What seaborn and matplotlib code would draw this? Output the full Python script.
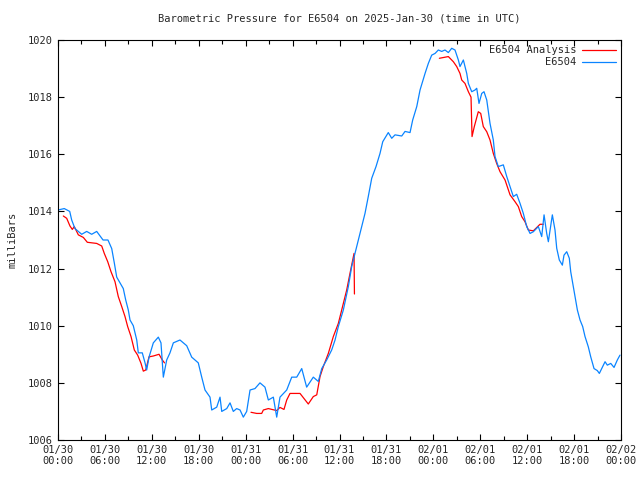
import numpy as np
import pandas as pd
import matplotlib
matplotlib.use("Agg")
import matplotlib.pyplot as plt
import seaborn as sns

# hours since 2025-01-30 00:00 UTC, pressure in mb
obs_hours = [0.0, 0.8, 1.5, 1.75, 2.17, 3.03, 3.67, 4.31, 4.95, 5.76, 6.39, 6.87, 7.2, 7.51, 7.93,
             8.35, 8.66, 8.99, 9.21, 9.63, 10.07, 10.27, 10.78, 11.13, 11.34, 11.64, 12.19, 12.83,
             13.17, 13.47, 13.9, 14.32, 14.75, 15.6, 16.46, 17.1, 17.94, 18.38, 18.8, 19.44, 19.66,
             20.3, 20.72, 20.94, 21.58, 22.0, 22.42, 22.85, 23.28, 23.7, 24.13, 24.56, 25.19, 25.83,
             26.47, 26.9, 27.54, 27.97, 28.39, 29.25, 29.89, 30.53, 31.17, 31.8, 32.65, 33.29, 33.73,
             34.36, 35.0, 35.43, 35.85, 36.49, 37.13, 37.56, 37.98, 38.41, 38.84, 39.26, 39.68, 40.12,
             40.67, 41.18, 41.53, 42.24, 42.68, 43.1, 43.96, 44.38, 45.02, 45.36, 45.88, 46.3, 46.94,
             47.36, 47.79, 48.22, 48.64, 49.07, 49.49, 49.92, 50.35, 50.77, 51.2, 51.41, 51.84, 52.27,
             52.48, 52.91, 53.33, 53.55, 53.84, 54.19, 54.48, 54.83, 55.25, 55.67, 55.89, 56.31, 56.95,
             57.39, 57.81, 58.23, 58.66, 59.09, 59.51, 59.94, 60.37, 60.79, 61.43, 61.86, 62.16, 62.5,
             62.71, 63.22, 63.56, 63.78, 64.11, 64.5, 64.71, 65.06, 65.39, 65.57, 65.9, 66.12, 66.42,
             66.76, 67.1, 67.4, 67.82, 68.13, 68.55, 68.97, 69.23, 69.66, 69.96, 70.25, 70.69, 71.11,
             71.53, 71.87]
obs_mb = [1014.05, 1014.1, 1014.0, 1013.7, 1013.4, 1013.2, 1013.3, 1013.2, 1013.3, 1013.0, 1013.0,
          1012.7, 1012.2, 1011.7, 1011.5, 1011.3, 1010.9, 1010.55, 1010.2, 1010.0, 1009.5, 1009.05,
          1009.05, 1008.7, 1008.45, 1008.9, 1009.4, 1009.6, 1009.4, 1008.2, 1008.8, 1009.05, 1009.4,
          1009.5, 1009.3, 1008.9, 1008.7, 1008.2, 1007.75, 1007.5, 1007.05, 1007.15, 1007.5, 1007.0,
          1007.1, 1007.3, 1007.0, 1007.1, 1007.05, 1006.8, 1007.0, 1007.75, 1007.8, 1008.0, 1007.85,
          1007.4, 1007.5, 1006.8, 1007.5, 1007.75, 1008.2, 1008.2, 1008.5, 1007.85, 1008.2, 1008.05,
          1008.5, 1008.8, 1009.15, 1009.5, 1009.97, 1010.55, 1011.37, 1012.07, 1012.53, 1013.0,
          1013.47, 1013.93, 1014.52, 1015.16, 1015.57, 1016.03, 1016.44, 1016.76, 1016.56, 1016.68,
          1016.64, 1016.8, 1016.76, 1017.2, 1017.67, 1018.25, 1018.83, 1019.18, 1019.47, 1019.53,
          1019.65, 1019.6, 1019.65, 1019.56, 1019.71, 1019.65, 1019.3, 1019.07, 1019.3, 1018.83,
          1018.48, 1018.19, 1018.25, 1018.31, 1017.78, 1018.13, 1018.19, 1017.9, 1017.08, 1016.5,
          1015.92, 1015.57, 1015.63, 1015.22, 1014.87, 1014.52, 1014.6, 1014.28, 1013.93, 1013.47,
          1013.23, 1013.29, 1013.47, 1013.12, 1013.88, 1013.23, 1012.94, 1013.88, 1013.35, 1012.71,
          1012.3, 1012.12, 1012.47, 1012.59, 1012.36, 1011.89, 1011.37, 1011.02, 1010.55, 1010.2,
          1009.97, 1009.62, 1009.26, 1008.91, 1008.5, 1008.43, 1008.33, 1008.57, 1008.74, 1008.62,
          1008.68, 1008.54, 1008.8, 1008.97]

# analysis series, three separate pieces
ana_hours_1 = [0.68, 1.11, 1.53, 1.83, 2.08, 2.6, 3.24, 3.75, 4.95, 5.59, 5.92, 6.36, 6.78, 7.29,
               7.71, 8.15, 8.57, 8.91, 9.34, 9.76, 10.19, 10.62, 10.91, 11.22, 11.64, 12.19, 12.92,
               13.34, 13.62]
ana_mb_1 = [1013.84, 1013.76, 1013.49, 1013.37, 1013.47, 1013.18, 1013.09, 1012.92, 1012.88,
            1012.79, 1012.53, 1012.24, 1011.89, 1011.54, 1011.02, 1010.67, 1010.32, 1009.97,
            1009.62, 1009.15, 1008.97, 1008.68, 1008.41, 1008.45, 1008.91, 1008.94, 1009.0,
            1008.8, 1008.7]
ana_hours_2 = [24.68, 25.41, 26.05, 26.26, 26.9, 27.97, 28.39, 28.9, 29.25, 29.67, 30.95, 32.01,
               32.65, 33.09, 33.51, 33.93, 34.57, 35.21, 35.85, 36.49, 36.92, 37.34, 37.69, 37.86,
               37.91]
ana_mb_2 = [1006.97, 1006.93, 1006.93, 1007.05, 1007.1, 1007.03, 1007.14, 1007.07, 1007.4,
            1007.63, 1007.63, 1007.26, 1007.52, 1007.58, 1008.22, 1008.57, 1009.03, 1009.62,
            1010.08, 1010.78, 1011.25, 1011.83, 1012.3, 1012.53, 1011.11]
ana_hours_3 = [48.77, 49.92, 50.56, 50.99, 51.41, 51.63, 52.05, 52.48, 52.82, 52.95, 53.24, 53.75,
               54.06, 54.39, 54.83, 55.25, 55.67, 56.1, 56.53, 57.17, 57.81, 58.45, 58.87, 59.3,
               59.72, 60.15, 60.79, 61.64, 62.07]
ana_mb_3 = [1019.36, 1019.42, 1019.24, 1019.07, 1018.83, 1018.6, 1018.48, 1018.19, 1018.0,
            1016.62, 1016.97, 1017.49, 1017.43, 1016.97, 1016.79, 1016.5, 1016.03, 1015.68,
            1015.39, 1015.1, 1014.58, 1014.34, 1014.17, 1013.82, 1013.64, 1013.35, 1013.32,
            1013.55, 1013.55]

tick_hours = list(range(0, 73, 6))
tick_labels = ["01/30\n00:00", "01/30\n06:00", "01/30\n12:00", "01/30\n18:00",
               "01/31\n00:00", "01/31\n06:00", "01/31\n12:00", "01/31\n18:00",
               "02/01\n00:00", "02/01\n06:00", "02/01\n12:00", "02/01\n18:00",
               "02/02\n00:00"]

df_obs = pd.DataFrame({"hours": obs_hours, "mb": obs_mb})
df_ana = pd.concat([
    pd.DataFrame({"hours": ana_hours_1, "mb": ana_mb_1, "seg": 1}),
    pd.DataFrame({"hours": ana_hours_2, "mb": ana_mb_2, "seg": 2}),
    pd.DataFrame({"hours": ana_hours_3, "mb": ana_mb_3, "seg": 3}),
], ignore_index=True)

sns.set_style("ticks")
plt.rcParams['font.family'] = ['DejaVu Sans Mono']

fig = plt.figure(figsize=(6.4, 4.8), dpi=100)
ax = fig.add_axes([58 / 640, 1 - 440 / 480, 563 / 640, 400 / 480])

sns.lineplot(data=df_ana, x="hours", y="mb", units="seg", estimator=None, color="#ff0000",
             linewidth=0.9, ax=ax, label="E6504 Analysis")
sns.lineplot(data=df_obs, x="hours", y="mb", color="#0a84ff", linewidth=0.9, ax=ax, label="E6504")

ax.set_xlim(0, 72)
ax.set_ylim(1006, 1020)
ax.set_xticks(tick_hours)
ax.set_xticklabels(tick_labels, fontsize=7.5)
ax.set_xticks(np.arange(3, 72, 6), minor=True)
ax.set_yticks(np.arange(1006, 1021, 2))
ax.tick_params(axis='y', labelsize=7.5)
ax.tick_params(which='both', direction='in', top=True, right=True, length=4, width=0.8, color='black')
ax.tick_params(which='minor', length=3)
for s in ax.spines.values():
    s.set_color('black')
    s.set_linewidth(0.8)

ax.set_xlabel("")
ax.set_ylabel("milliBars", fontsize=7.5, labelpad=8)
ax.set_title("Barometric Pressure for E6504 on 2025-Jan-30 (time in UTC)", fontsize=7.5, pad=13)

# one legend entry per series
handles, labels = ax.get_legend_handles_labels()
seen = {}
for h, l in zip(handles, labels):
    if l not in seen:
        seen[l] = h
ax.legend(list(seen.values()), list(seen.keys()), loc="upper right", frameon=False,
          markerfirst=False, fontsize=7.5, handlelength=3.2, borderaxespad=0.1,
          labelspacing=0.2, handletextpad=0.6)

fig.savefig("out.png", dpi=100)
